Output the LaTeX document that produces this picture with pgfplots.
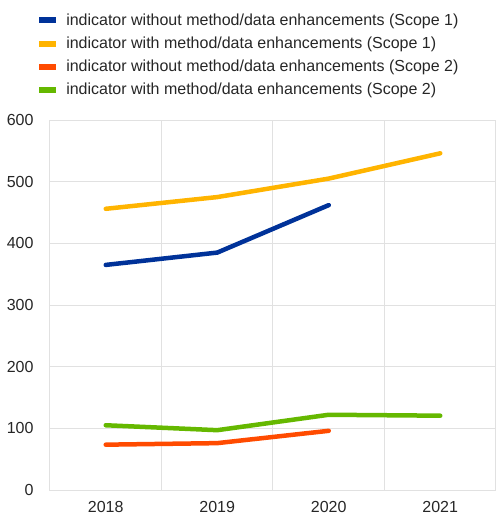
\documentclass[border=0pt]{standalone}
\usepackage{pgfplots}
\pgfplotsset{compat=1.18}
\usepackage{fontspec}
\setmainfont{Liberation Sans}
\definecolor{ecbblue}{HTML}{003299}
\definecolor{ecbyellow}{HTML}{FFB400}
\definecolor{ecborange}{HTML}{FF4B00}
\definecolor{ecbgreen}{HTML}{65B800}
\definecolor{gridgray}{HTML}{E1E1E1}
\begin{document}
\begin{tikzpicture}[x=1pt,y=1pt]
\path[use as bounding box] (0,0) rectangle (496,515);
\begin{axis}[
    at={(50pt,25pt)}, anchor=south west,
    scale only axis, width=446pt, height=370pt,
    xmin=-0.5, xmax=3.5, ymin=0, ymax=600,
    xtick={0,1,2,3}, xticklabels={2018,2019,2020,2021},
    ytick={0,100,...,600},
    minor xtick={-0.5,0.5,1.5,2.5},
    xminorgrids, ymajorgrids,
    grid style={draw=gridgray, line width=1pt},
    minor grid style={draw=gridgray, line width=1pt},
    axis line style={draw=gridgray, line width=1pt},
    major tick length=0pt, minor tick length=0pt,
    tick label style={font=\fontsize{16}{19}\selectfont, text=black!85},
    /pgf/number format/assume math mode=true,
    xticklabel style={yshift=-8pt},
    yticklabel style={xshift=-13pt},
    legend style={at={(rel axis cs:-0.038,1.298)}, anchor=north west,
        draw=none, fill=none, font=\fontsize{16}{19}\selectfont,
        text=black!85, row sep=6pt, cells={anchor=west},
        nodes={inner xsep=7pt}},
    legend cell align=left,
    legend image code/.code={\draw[#1, line width=6pt, line cap=butt] (0pt,0pt) -- (17pt,0pt);},
    every axis plot/.append style={line width=4.5pt, line cap=round, line join=round},
]
\addplot[ecbblue] coordinates {(0,365) (1,385) (2,462)};
\addlegendentry{indicator without method/data enhancements (Scope 1)}
\addplot[ecbyellow] coordinates {(0,456) (1,475) (2,505) (3,546)};
\addlegendentry{indicator with method/data enhancements (Scope 1)}
\addplot[ecborange] coordinates {(0,73.5) (1,76) (2,96)};
\addlegendentry{indicator without method/data enhancements (Scope 2)}
\addplot[ecbgreen] coordinates {(0,105) (1,97) (2,122) (3,120.5)};
\addlegendentry{indicator with method/data enhancements (Scope 2)}
\end{axis}
\end{tikzpicture}
\end{document}
